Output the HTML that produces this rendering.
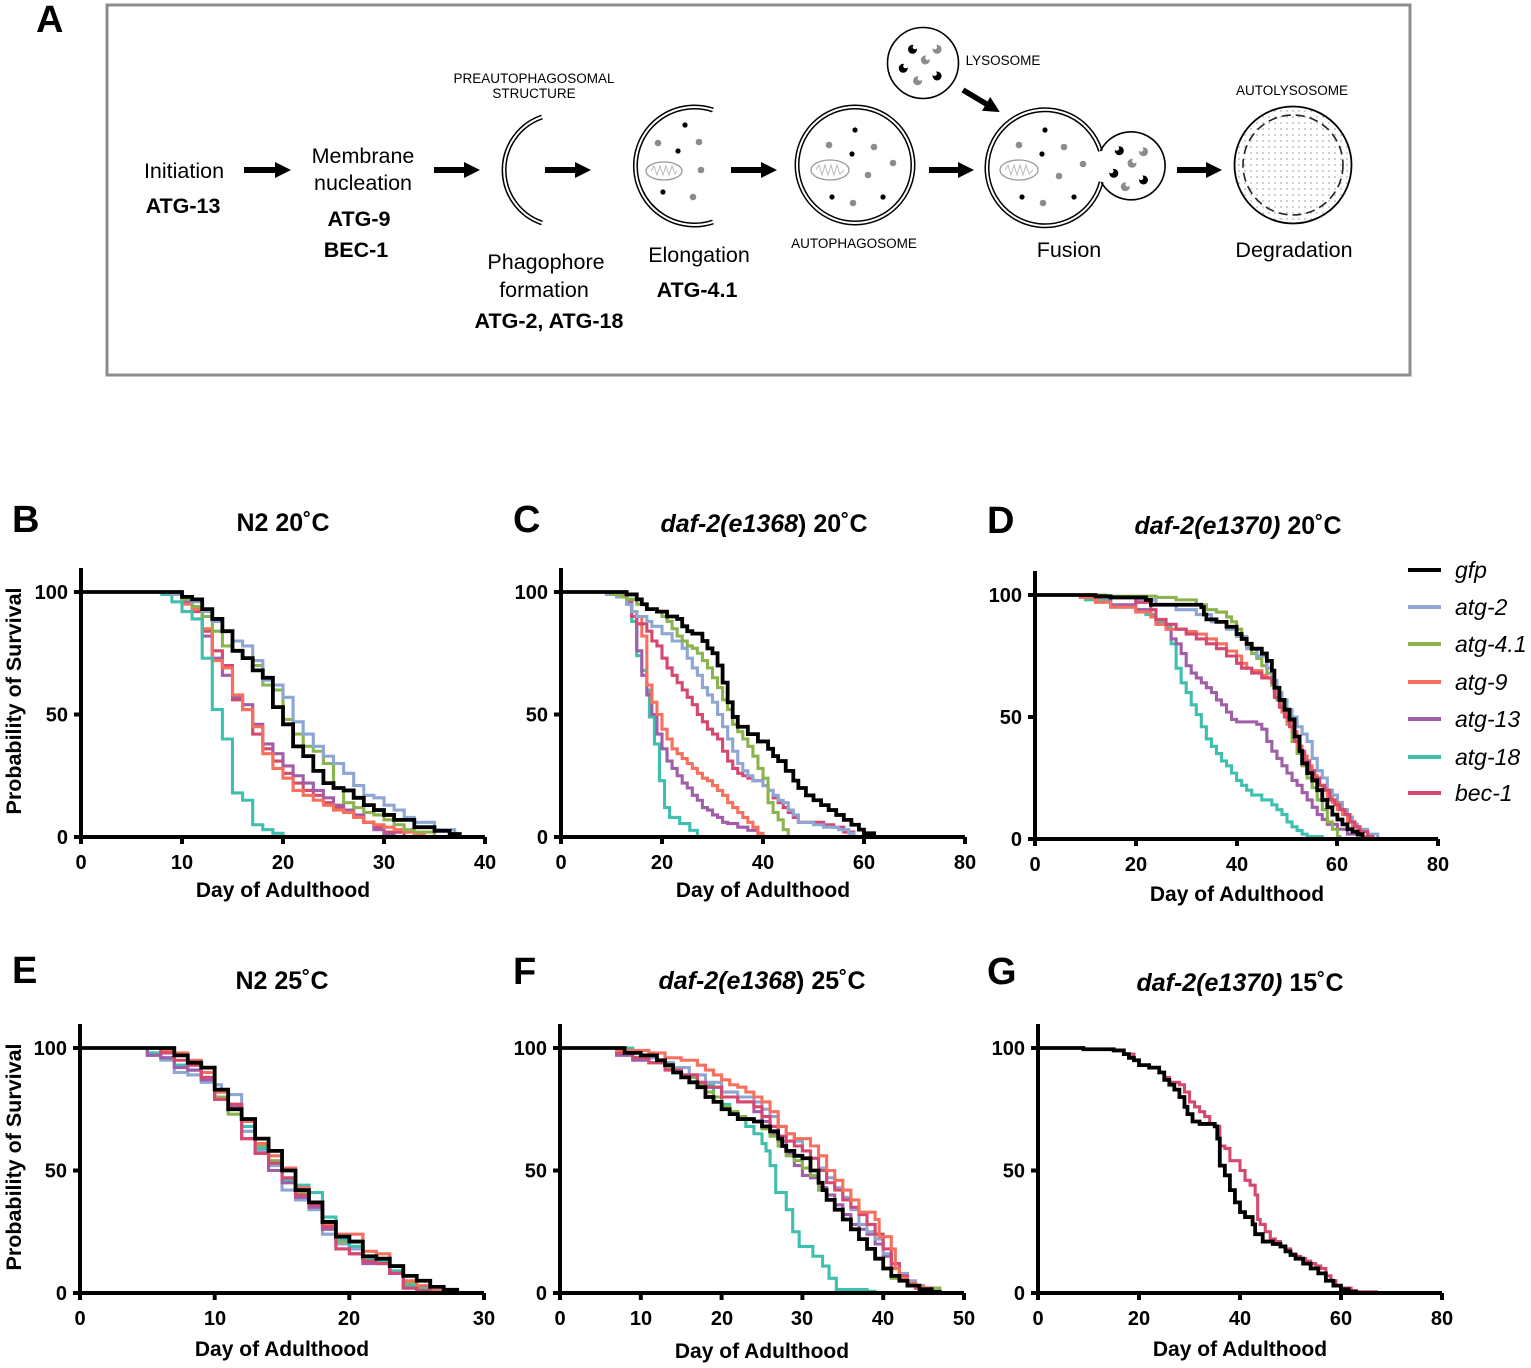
<!DOCTYPE html>
<html><head><meta charset="utf-8"><style>
html,body{margin:0;padding:0;background:#fff}
svg{display:block}
text{font-family:"Liberation Sans",Arial,sans-serif;fill:#000}
.b{font-weight:bold}
.tk{font-weight:bold;font-size:20px}
.xl{font-weight:bold;font-size:21px;text-anchor:middle}
.tt{font-weight:bold;font-size:25px;text-anchor:middle}
.pl{font-weight:bold;font-size:38px}
.ax{fill:none;stroke:#000;stroke-width:4}
.s{fill:none;stroke-width:3.1;vector-effect:non-scaling-stroke;stroke-linejoin:miter}
.k{stroke:#000;stroke-width:3.8}
.c2{stroke:#8ea6d4}.c4{stroke:#8cb44e}.c9{stroke:#f7705e}.c13{stroke:#a15ea8}.c18{stroke:#3fbfae}.cb{stroke:#d5486f}
.a1{font-size:21.5px;text-anchor:middle}
.a2{font-size:21.5px;font-weight:bold;text-anchor:middle}
.sm{font-size:13.5px;text-anchor:middle}
.lg{font-size:23px;font-style:italic}
</style></head><body>
<svg width="1531" height="1368" viewBox="0 0 1531 1368" xmlns="http://www.w3.org/2000/svg">
<defs>
<pattern id="dots" width="6" height="6" patternUnits="userSpaceOnUse"><circle cx="3" cy="3" r="0.7" fill="#888"/></pattern>
</defs>
<rect width="1531" height="1368" fill="#fff"/>

<!-- ================= PANEL A ================= -->
<text x="36" y="32" class="pl">A</text>
<rect x="107" y="5" width="1303" height="370" fill="none" stroke="#8c8c8c" stroke-width="3"/>

<text x="184" y="178" class="a1">Initiation</text>
<text x="183" y="213" class="a2">ATG-13</text>
<text x="363" y="163" class="a1">Membrane</text>
<text x="363" y="190" class="a1">nucleation</text>
<text x="359" y="226" class="a2">ATG-9</text>
<text x="356" y="257" class="a2">BEC-1</text>
<text x="534" y="83" class="sm">PREAUTOPHAGOSOMAL</text>
<text x="534" y="98" class="sm">STRUCTURE</text>
<text x="546" y="269" class="a1">Phagophore</text>
<text x="544" y="297" class="a1">formation</text>
<text x="549" y="328" class="a2">ATG-2, ATG-18</text>
<text x="699" y="262" class="a1">Elongation</text>
<text x="697" y="297" class="a2">ATG-4.1</text>
<text x="854" y="248" class="sm">AUTOPHAGOSOME</text>
<text x="1003" y="65" class="sm">LYSOSOME</text>
<text x="1069" y="257" class="a1">Fusion</text>
<text x="1292" y="95" class="sm">AUTOLYSOSOME</text>
<text x="1294" y="257" class="a1">Degradation</text>

<!-- arrows -->
<g fill="#000">
<polygon points="244,167 275,167 275,162 291,170 275,178 275,173 244,173"/>
<polygon points="434,167 464,167 464,162 480,170 464,178 464,173 434,173"/>
<polygon points="545,167 575,167 575,162 591,170 575,178 575,173 545,173"/>
<polygon points="731,167 761,167 761,162 777,170 761,178 761,173 731,173"/>
<polygon points="929,167 958,167 958,162 974,170 958,178 958,173 929,173"/>
<polygon points="1177,167 1206,167 1206,162 1222,170 1206,178 1206,173 1177,173"/>
<g transform="translate(963,90) rotate(31)"><polygon points="0,-2.8 27,-2.8 27,-8 43,0 27,8 27,2.8 0,2.8"/></g>
</g>

<!-- phagophore -->
<path d="M542 117 A56 56 0 0 0 542 223" fill="none" stroke="#000" stroke-width="5"/>
<path d="M542 117 A56 56 0 0 0 542 223" fill="none" stroke="#fff" stroke-width="2"/>

<!-- elongation -->
<path d="M713 110 A59 59 0 1 0 713 222" fill="none" stroke="#000" stroke-width="5"/>
<path d="M713 110 A59 59 0 1 0 713 222" fill="none" stroke="#fff" stroke-width="2"/>
<g fill="#000"><circle cx="685" cy="125" r="2.6"/><circle cx="678" cy="151" r="2.6"/><circle cx="663" cy="192" r="2.6"/></g>
<g fill="#8c8c8c"><circle cx="658" cy="143" r="3.3"/><circle cx="699" cy="142" r="3.3"/><circle cx="701" cy="170" r="3.3"/><circle cx="693" cy="197" r="3.3"/></g>
<g transform="translate(664,171)"><ellipse rx="18" ry="9" fill="#fff" stroke="#999" stroke-width="1.3"/><polyline points="-13,0 -10,-5 -7,4 -4,-5 -1,4 2,-5 5,4 8,-5 11,3 13,0" fill="none" stroke="#bbb" stroke-width="1"/></g>

<!-- autophagosome -->
<circle cx="855" cy="165" r="58" fill="none" stroke="#000" stroke-width="5"/>
<circle cx="855" cy="165" r="58" fill="none" stroke="#fff" stroke-width="2"/>
<g fill="#000"><circle cx="855" cy="130" r="2.6"/><circle cx="852" cy="154" r="2.6"/><circle cx="832" cy="197" r="2.6"/><circle cx="883" cy="197" r="2.6"/></g>
<g fill="#8c8c8c"><circle cx="829" cy="145" r="3.3"/><circle cx="874" cy="147" r="3.3"/><circle cx="893" cy="163" r="3.3"/><circle cx="868" cy="175" r="3.3"/><circle cx="853" cy="203" r="3.3"/></g>
<g transform="translate(830,170)"><ellipse rx="19" ry="10" fill="#fff" stroke="#999" stroke-width="1.3"/><polyline points="-14,0 -11,-5 -8,5 -5,-5 -2,5 1,-5 4,5 7,-5 10,4 14,0" fill="none" stroke="#bbb" stroke-width="1"/></g>

<!-- lysosome -->
<circle cx="923" cy="63" r="35.5" fill="#fff" stroke="#000" stroke-width="1.6"/>
<g>
<circle cx="912.5" cy="49.3" r="4.5" fill="#000"/><circle cx="915" cy="47" r="2.3" fill="#fff"/>
<circle cx="903.2" cy="68.3" r="4.5" fill="#000"/><circle cx="905.5" cy="66" r="2.3" fill="#fff"/>
<circle cx="937.1" cy="76" r="4.5" fill="#000"/><circle cx="934.6" cy="73.6" r="2.3" fill="#fff"/>
<circle cx="937.1" cy="49.3" r="4.5" fill="#8c8c8c"/><circle cx="934.8" cy="47" r="2.3" fill="#fff"/>
<circle cx="925.3" cy="60" r="4.5" fill="#8c8c8c"/><circle cx="927.6" cy="57.8" r="2.3" fill="#fff"/>
<circle cx="917.6" cy="80.7" r="4.5" fill="#8c8c8c"/><circle cx="920" cy="78.4" r="2.3" fill="#fff"/>
</g>

<!-- fusion -->
<path d="M1100.5 151 A58 58 0 1 0 1101.2 182" fill="none" stroke="#000" stroke-width="5"/>
<path d="M1100.5 151 A58 58 0 1 0 1101.2 182" fill="none" stroke="#fff" stroke-width="2"/>
<path d="M1100.5 151 A34 34 0 1 1 1101.2 182" fill="none" stroke="#000" stroke-width="1.6"/>
<g fill="#000"><circle cx="1045" cy="130" r="2.6"/><circle cx="1042" cy="154" r="2.6"/><circle cx="1022" cy="197" r="2.6"/><circle cx="1074" cy="197" r="2.6"/></g>
<g fill="#8c8c8c"><circle cx="1019" cy="145" r="3.3"/><circle cx="1064" cy="147" r="3.3"/><circle cx="1083" cy="164" r="3.3"/><circle cx="1059" cy="176" r="3.3"/><circle cx="1043" cy="203" r="3.3"/></g>
<g transform="translate(1019,170)"><ellipse rx="19" ry="10" fill="#fff" stroke="#999" stroke-width="1.3"/><polyline points="-14,0 -11,-5 -8,5 -5,-5 -2,5 1,-5 4,5 7,-5 10,4 14,0" fill="none" stroke="#bbb" stroke-width="1"/></g>
<g>
<circle cx="1119.3" cy="150.7" r="4.5" fill="#000"/><circle cx="1116.8" cy="148.4" r="2.3" fill="#fff"/>
<circle cx="1113.8" cy="173.3" r="4.5" fill="#000"/><circle cx="1111.3" cy="171" r="2.3" fill="#fff"/>
<circle cx="1143.5" cy="180" r="4.5" fill="#000"/><circle cx="1141" cy="177.7" r="2.3" fill="#fff"/>
<circle cx="1143.5" cy="151.7" r="4.5" fill="#8c8c8c"/><circle cx="1141" cy="149.4" r="2.3" fill="#fff"/>
<circle cx="1132" cy="163.3" r="4.5" fill="#8c8c8c"/><circle cx="1134.4" cy="161" r="2.3" fill="#fff"/>
<circle cx="1125.3" cy="186.7" r="4.5" fill="#8c8c8c"/><circle cx="1127.7" cy="184.4" r="2.3" fill="#fff"/>
</g>

<!-- autolysosome -->
<circle cx="1293" cy="165" r="58.5" fill="url(#dots)" stroke="#000" stroke-width="1.8"/>
<circle cx="1293" cy="165" r="50" fill="none" stroke="#222" stroke-width="1.6" stroke-dasharray="9 5"/>

<!-- ================= PANEL B ================= -->
<text x="12" y="532" class="pl">B</text>
<text x="283" y="531" class="tt">N2 20˚C</text>
<text transform="translate(21,701) rotate(-90)" class="b" font-size="21.5" text-anchor="middle">Probability of Survival</text>
<g transform="translate(81,837) scale(10.1,-2.45)">
<path class="s cb" d="M0 100H10V96H11V92H12V84H13V76H14V70H15V56H16V52H17V42H18V36H19V31H20V26H21V22H22V19H23V17H24V14H25V12H26V10H27V8H28V6H29V4H30V2H32V0"/>
<path class="s c13" d="M0 100H10V96H11V94H12V82H13V73H14V66H15V57H16V54H17V46H18V38H19V34H20V29H21V25H22V22H23V19H24V16H25V13H26V11H27V9H28V6H29V3H30V1H31V0"/>
<path class="s c9" d="M0 100H10V95H11V93H12V85H13V72H14V69H15V58H16V52H17V45H18V34H19V28H20V24H21V19H22V17H23V15H24V13H25V11H26V10H27V8H28V6H29V5H30V4H31V3H32V2H33V1H34V0"/>
<path class="s c18" d="M0 100H8V99H9V96H10V92H11V89H12V73H13V52H14V40H15V18H16V15H17V5H18V3H19V1.5H20V0"/>
<path class="s c4" d="M0 100H9V99H10V97H11V94H12V90H13V84H14V78H15V76H16V73H17V70H18V62H19V60H20V48H21V42H22V37H23V35H24V30H25V20H26V14H27V12H28V10H29V9H30V7H31V5H32V3H33V2H35V0"/>
<path class="s c2" d="M0 100H9V99H10V98H11V96H12V92H13V88H14V84H15V80H16V78H17V72H18V64H19V62H20V57H21V47H22V42H23V37H24V33H25V30H26V26H27V21H28V17H29V16H30V13H31V11H32V8H33V6H35V3H37V1H37.5V0"/>
<path class="s k" d="M0 100H10V98H11V97H12V93H13V89H14V84H15V76H16V73H17V68H18V65H19V53H20V46H21V37H22V33H23V27H24V22H25V20H26V19H27V16H28V13H29V11H30V9H31V7H33V4H35V2.5H36.5V1.2H37.5V0"/>
</g>
<path class="ax" d="M81 568V837H485 M74 837H81 M74 714.5H81 M74 592H81 M81 837V844 M182 837V844 M283 837V844 M384 837V844 M485 837V844"/>
<g class="tk" text-anchor="end"><text x="68" y="599">100</text><text x="68" y="721.5">50</text><text x="68" y="844">0</text></g>
<g class="tk" text-anchor="middle"><text x="81" y="869">0</text><text x="182" y="869">10</text><text x="283" y="869">20</text><text x="384" y="869">30</text><text x="485" y="869">40</text></g>
<text x="283" y="897" class="xl">Day of Adulthood</text>

<!-- ================= PANEL C ================= -->
<text x="513" y="532" class="pl">C</text>
<text x="764" y="532" class="tt"><tspan font-style="italic">daf-2(e1368</tspan>) 20˚C</text>
<g transform="translate(561,837) scale(5.05,-2.45)">
<path class="s c18" d="M0 100H10V99H13V96H14V88H15V74H16V68H17V60H17.5V49H18.5V38H19.5V23H20.5V12H21.5V8H23.5V5.5H25.5V2.7H27V0"/>
<path class="s c13" d="M0 100H10V99H13V96H14V92H15V76H16V66H17V58H18V50H19V42H20V36H21V31H22V28H23V25H24V22H25V20H26V17H27V15H28V12H29V11H30V9H31V8H32V6H33V5.5H35V4H37V2.7H39V1.4H40V0"/>
<path class="s c9" d="M0 100H10V99H12V98H13V95H14V92H15V90H16V82H17V62H18V55H19V50H20V44H21V40H22V36H23V34H24V32H25V30H26V28H27V26H28V24H29V23H30V21H31V19H32V17H33V14H34V12H35V10H36V8H37V6H38V4H39V1.5H40V0"/>
<path class="s cb" d="M0 100H10V99H13V97H14V90H15V87H17V84H18V80H19V78H20V73H21V69H22V66H23V63H24V60H25V57H26V54H27V50H28V47H29V44H30V42H31V40H32V35H33V31H34V28H35V26H36V25H37V24H38V23H40V21H41V19H42V16H43V14H44V12H45V10H46V8H47V6H52V5H54V4H56V2H58V0"/>
<path class="s c2" d="M0 100H9V99H11V98H13V95H14V92H15V90H17V88H18V86H20V83H22V80H24V77H25V73H26V69H27V66H28V61H29V58H30V55H31V50H32V45H33V40H34V35H35V30H36V27H37V25H38V23H40V21H41V19H42V17H43V15H44V14H45V11H46V9H47V6H50V5H52V4H55V3H57V1.5H58V0"/>
<path class="s c4" d="M0 100H10V99H12V98H13V97H15V95H17V93H19V92H20V90H21V88H22V85H23V82H24V80H25V78H26V77H27V75H28V72H29V69H30V65H31V61H32V56H33V52H34V46H35V43H36V40H37V37H38V33H39V28H40V24H41V14H42V10H43V7H44V3H45V0"/>
<path class="s k" d="M0 100H13V99H15V97H16V95H17V93H19V92H21V90H23V89H24V86H25V84H26V83H28V80H29V77H30V75H31V70H32V63H33V55H34V49H35V45H37V42H39V39H41V36H42V33H43V31H44.5V27H46V23H47V20H48.5V17H50V15H51.5V13H53V11H54.5V9H56V7H57.5V5H59V3H60V1.5H62V0"/>
</g>
<path class="ax" d="M561 568V837H965 M554 837H561 M554 714.5H561 M554 592H561 M561 837V844 M662 837V844 M763 837V844 M864 837V844 M965 837V844"/>
<g class="tk" text-anchor="end"><text x="548" y="599">100</text><text x="548" y="721.5">50</text><text x="548" y="844">0</text></g>
<g class="tk" text-anchor="middle"><text x="561" y="869">0</text><text x="662" y="869">20</text><text x="763" y="869">40</text><text x="864" y="869">60</text><text x="965" y="869">80</text></g>
<text x="763" y="897" class="xl">Day of Adulthood</text>

<!-- ================= PANEL D ================= -->
<text x="987" y="533" class="pl">D</text>
<text x="1238" y="534" class="tt"><tspan font-style="italic">daf-2(e1370)</tspan> 20˚C</text>
<g transform="translate(1035,839) scale(5.04,-2.44)">
<path class="s c18" d="M0 100H10V98H15V95H20V94H22V92H24V89H26V87H27V80H28V70H29V64H30V60H31V55H32V51H33V46H34V41H35V38H36V35H37V32H38V30H39V27H40V24H41V22H42V20H43V18H45V16H47V14H48V12H49V10H50V7H51V5H52V3.5H53V2H54V1H57V0"/>
<path class="s c13" d="M0 100H10V99H15V96H20V94H23V91H24V88H26V86H27V82H28V80H29V76H30V71H31V68H32V66H33V64H34V62H35V60H36V57H37V55H38V52H39V49H40V48H44V47H45V45H46V40H47V36H48V33H49V30H50V27H51V24H52V22H53V19H54V16H55V13H56V10H57V8H58V6H60V4H62V2H64V1H66V0"/>
<path class="s c4" d="M0 100H14V99.5H24V99H28V98H32V96H34V94H36V93H38V91H39V89H40V86H41V82H42V79H43V76H44V74H45V71H46V68H47V63H48V57H49V53H50V47H51V40H52V35H53V30H54V25H55V21H56V16H57V12H58V7H59V4H60V1H60.5V0"/>
<path class="s c2" d="M0 100H12V99H20V98H24V96H28V94H32V92H35V89H38V86H40V83H42V78H44V75H46V70H47V65H48V60H49V57H50V53H51V50H52V46H53V43H54V40H55V33H56V28H57V25H58V20H59V18H60V15H61V12H62V9H63V6H64V4H66V2H68V0"/>
<path class="s c9" d="M0 100H9V99H12V97H15V95H20V93H23V91H24V88H26V86H30V85H32V84H34V82H36V80H38V77H40V75H41V72H42V70H43V69H45V67H46V66H47V65H47.5V60H48.5V55H49V52H50V48H51V44H52V38H53V34H54V30H55V26H56V22H57V20H58V17H59V15H60V12H61V10H62V7H63V5H64V3H65V1H66V0"/>
<path class="s cb" d="M0 100H12V99H20V97H23V94H24V90H26V88H28V86H30V84H32V82H34V80H36V78H38V75H40V72H41V70H43V68H45V66H47V64H47.5V58H48.5V54H49.5V50H50.5V46H51.5V40H52.5V36H53.5V32H54.5V28H55.5V25H56.5V22H57.5V20H58.5V16H59.5V14H60.5V12H61.5V10H62.5V7H63.5V5H64.5V3H66V1H67V0"/>
<path class="s k" d="M0 100H12V99.5H15V99H22V98H23V96H33V95H33.5V92H34V90H36V89H38V87H40V84H41V82H42V80H43V78H45V76H46V73H47V69H47.5V62H48.5V57H49.5V53H50.5V49H51.5V42H52.5V36H53V31H54V27H55V24H56V20H57V16H58V13H59V10H60V8H61V6H62V4H63V3H64V2H65V0"/>
</g>
<path class="ax" d="M1035 571V839H1438 M1028 839H1035 M1028 717H1035 M1028 595H1035 M1035 839V846 M1136 839V846 M1237 839V846 M1337 839V846 M1438 839V846"/>
<g class="tk" text-anchor="end"><text x="1022" y="602">100</text><text x="1022" y="724">50</text><text x="1022" y="846">0</text></g>
<g class="tk" text-anchor="middle"><text x="1035" y="871">0</text><text x="1136" y="871">20</text><text x="1237" y="871">40</text><text x="1337" y="871">60</text><text x="1438" y="871">80</text></g>
<text x="1237" y="901" class="xl">Day of Adulthood</text>

<!-- legend -->
<g stroke-width="4">
<line x1="1408" y1="570" x2="1441" y2="570" stroke="#000"/>
<line x1="1408" y1="607" x2="1441" y2="607" stroke="#8ea6d4"/>
<line x1="1408" y1="644" x2="1441" y2="644" stroke="#8cb44e"/>
<line x1="1408" y1="682" x2="1441" y2="682" stroke="#f7705e"/>
<line x1="1408" y1="719" x2="1441" y2="719" stroke="#a15ea8"/>
<line x1="1408" y1="757" x2="1441" y2="757" stroke="#3fbfae"/>
<line x1="1408" y1="793" x2="1441" y2="793" stroke="#d5486f"/>
</g>
<g class="lg">
<text x="1455" y="578">gfp</text>
<text x="1455" y="615">atg-2</text>
<text x="1455" y="652">atg-4.1</text>
<text x="1455" y="690">atg-9</text>
<text x="1455" y="727">atg-13</text>
<text x="1455" y="765">atg-18</text>
<text x="1455" y="801">bec-1</text>
</g>

<!-- ================= PANEL E ================= -->
<text x="12" y="983" class="pl">E</text>
<text x="282" y="989" class="tt">N2 25˚C</text>
<text transform="translate(21,1157) rotate(-90)" class="b" font-size="21.5" text-anchor="middle">Probability of Survival</text>
<g transform="translate(80,1293) scale(13.47,-2.45)">
<path class="s c2" d="M0 100H5V97H6V95H7V90H8V89H9V86H10V85H10.5V82H11V81H12V66H13V58H14V52H15V42H16V38H17V34H18V24H19V20H20V18H21V13H22V12H23V8H24V2H25V1H26V0"/>
<path class="s c4" d="M0 100H5V98H6V96H7V93H8V91H9V88H10V80H11V73H12V70H13V60H14V54H15V45H16V41H17V36H18V29H19V21H20V19H21V14H22V13H23V9H24V4H25V2H26V0"/>
<path class="s c18" d="M0 100H5V98H6V96H7V93H8V91H9V88H10V82H11V76H12V68H13V59H14V53H15V46H16V44H17V41H18V31H19V22H20V19H21V14H22V13H23V9H24V3H25V2H26V0"/>
<path class="s c13" d="M0 100H5V97H6V96H7V92H8V91H9V87H10V79H11V76H12V63H13V57H14V50H15V45H16V39H17V35H18V26H19V18H20V16H21V12H23V8H24V2H25V1H26V0"/>
<path class="s c9" d="M0 100H6V99H7V98H8V95H9V90H10V82H11V77H12V70H13V61H14V56H15V51H16V43H17V37H18V28H19V24H21V17H22V16H23V11H24V5H25V3H26V1H27V0"/>
<path class="s cb" d="M0 100H6V98H7V95H8V93H9V88H10V79H11V77H12V63H13V57H14V53H15V47H16V40H17V36H18V27H19V18H20V16H21V13H22V12H23V8H24V2H25V1H26V0"/>
<path class="s k" d="M0 100H7V97H8V94H9V92H10V83H11V75H12V71H13V63H14V58H15V50H16V42H17V37H18V29H19V23H20V21H21V15H22V14H23V11H24V7H25V5H26V2.5H27V1.3H28V0"/>
</g>
<path class="ax" d="M80 1024V1293H484 M73 1293H80 M73 1170.5H80 M73 1048H80 M80 1293V1300 M214.7 1293V1300 M349.3 1293V1300 M484 1293V1300"/>
<g class="tk" text-anchor="end"><text x="67" y="1055">100</text><text x="67" y="1177.5">50</text><text x="67" y="1300">0</text></g>
<g class="tk" text-anchor="middle"><text x="80" y="1325">0</text><text x="215" y="1325">10</text><text x="349" y="1325">20</text><text x="484" y="1325">30</text></g>
<text x="282" y="1356" class="xl">Day of Adulthood</text>

<!-- ================= PANEL F ================= -->
<text x="513" y="984" class="pl">F</text>
<text x="762" y="989" class="tt"><tspan font-style="italic">daf-2(e1368</tspan>) 25˚C</text>
<g transform="translate(560,1293) scale(8.08,-2.45)">
<path class="s c18" d="M0 100H9V96H12V94H14V91H15V88H17V85H19V80H20V77H21V74H22V71H23V68H24V65H25V61H25.5V58H26V52H26.7V41H28V34H28.8V25H29.6V19H31.3V15H32.5V11H33.3V6H34.2V1.4H38V0.7H39V0"/>
<path class="s c13" d="M0 100H7V97H9V95H11V94H13V92H15V89H17V86H18V84H20V80H22V78H24V74H25V70H26V65H27V62H28V57H29V52H30V48H31V47H32V43H33V40H34V36H35V32H36V28H37V26H38V24H39V20H40V15H41V10H42V6H43V4H44V2H46V0"/>
<path class="s c4" d="M0 100H7V98H9V96H11V94H13V92H15V88H17V85H18V82H19V80H20V76H21V74H22V72H23V71H24V70H25V67H26V64H27V60H28V56H29V54H30V51H31V48H32V42H33V38H34V34H35V30H36V26H37V22H38V18H39V14H40V10H41V6H42V5H43V4H44V3H45V2H47V0"/>
<path class="s c2" d="M0 100H7V98H9V96H12V94H14V92H16V89H18V86H20V82H22V80H24V78H25V75H26V72H27V68H28V65H29V62H30V58H31V55H32V51H33V47H34V43H35V39H36V34H37V28H38V25H39V22H40V16H41V12H42V8H43V5H44V3H45V1.5H46V0"/>
<path class="s cb" d="M0 100H7V98H9V96H11V94H13V91H15V89H17V86H18V84H20V80H22V78H24V76H25V72H26V68H27V64H28V62H29V60H30V58H31V55H32V50H33V45H34V42H35V38H36V35H37V32H38V28H39V24H40V18H41V12H42V7H43V4H44V2H46V0"/>
<path class="s c9" d="M0 100H7V99H11V98H13V96H15V95H17V93H18V91H19V89H20V87H21V85H22V84H23V82H24V80H25V78H26V74H27V68H28V65H29V63H31V60H32V56H33V50H34V46H35V42H36V38H37V33H39V30H39.5V23H41V18H41.5V10H42V6H43V4H44V2.5H45V1H46V0"/>
<path class="s k" d="M0 100H8V98H10V97H12V95H13V93H14V90H15V88H16V86H17V84H18V80H19V78H20V75H21V73H22V71H24V70H25V68H26V66H27V63H27.5V60H28V58H29V56H30V55H31V50H32V45H32.5V42H33V38H34V34H35V30H36V26H37V22H38V18H39V14H40V10H41V7H42V5H43V3H44.5V1.5H46V0.5H47V0"/>
</g>
<path class="ax" d="M560 1024V1293H964 M553 1293H560 M553 1170.5H560 M553 1048H560 M560 1293V1300 M640.8 1293V1300 M721.6 1293V1300 M802.4 1293V1300 M883.2 1293V1300 M964 1293V1300"/>
<g class="tk" text-anchor="end"><text x="547" y="1055">100</text><text x="547" y="1177.5">50</text><text x="547" y="1300">0</text></g>
<g class="tk" text-anchor="middle"><text x="560" y="1325">0</text><text x="641" y="1325">10</text><text x="722" y="1325">20</text><text x="802" y="1325">30</text><text x="883" y="1325">40</text><text x="964" y="1325">50</text></g>
<text x="762" y="1358" class="xl">Day of Adulthood</text>

<!-- ================= PANEL G ================= -->
<text x="987" y="984" class="pl">G</text>
<text x="1240" y="991" class="tt"><tspan font-style="italic">daf-2(e1370)</tspan> 15˚C</text>
<g transform="translate(1038,1293) scale(5.05,-2.45)">
<path class="s cb" d="M0 100H9V99.5H15V99H17V97.5H19V95H20V93H22V92H24V90H25V88H26V86H28V85H29V82H30V78H31V76H32V74H33V72H34V69H35V68H36V60H37V59H38V54H40V50H41V46H42V44H43V40H43.5V30H44V28H45V25H46V22H47V21H48V19H49V18H50V16H51V15H52V14H53V13H54V12H55V11H56V10H57V7H58V5H59V3H60V2H62V1H63V0.5H67V0"/>
<path class="s k" d="M0 100H9V99.5H15V99H17V97.5H18V96H19V95H20V93H22V92H24V90H25V87H26V85H27V83H28V80H29V76H29.6V73H30.6V70H32V69H35V68H35.5V63H36V52H37V48H38V42H39V37H40V33H41V31H42.5V28H43V24H44.5V21H46.5V20H48V19H49V17H50V15.5H51V14H52.5V12H54V10H55.5V8H57V5H58.5V3H60V1.5H61.5V0.5H63V0"/>
</g>
<path class="ax" d="M1038 1024V1293H1442 M1031 1293H1038 M1031 1170.5H1038 M1031 1048H1038 M1038 1293V1300 M1139 1293V1300 M1240 1293V1300 M1341 1293V1300 M1442 1293V1300"/>
<g class="tk" text-anchor="end"><text x="1025" y="1055">100</text><text x="1025" y="1177.5">50</text><text x="1025" y="1300">0</text></g>
<g class="tk" text-anchor="middle"><text x="1038" y="1325">0</text><text x="1139" y="1325">20</text><text x="1240" y="1325">40</text><text x="1341" y="1325">60</text><text x="1442" y="1325">80</text></g>
<text x="1240" y="1356" class="xl">Day of Adulthood</text>
</svg>
</body></html>
